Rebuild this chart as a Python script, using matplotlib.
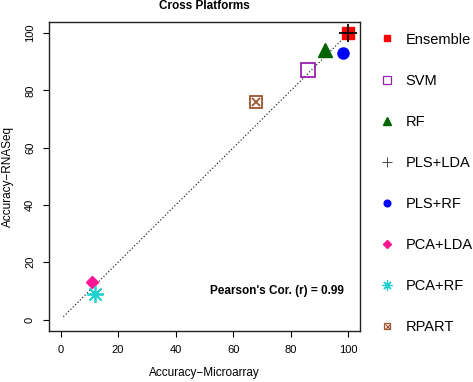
import matplotlib.pyplot as plt
from matplotlib.lines import Line2D

plt.rcParams['font.family'] = ['Liberation Sans', 'DejaVu Sans']

# accuracy values
methods = ['Ensemble', 'SVM', 'RF', 'PLS+LDA', 'PLS+RF', 'PCA+LDA', 'PCA+RF', 'RPART']
microarray = [100, 86, 92, 100, 98, 11, 12, 68]
rnaseq = [100, 87, 94, 100, 93, 13, 9, 76]
pearson_r = 0.99

colors = ['#FF0000', '#9A1FB0', '#006400', '#000000', '#0000FF', '#FF1493', '#20D0D0', '#A0522D']
# (marker, filled, size)
styles = [('s', True, 8), ('s', False, 9.5), ('^', True, 10), ('+', False, 13),
          ('o', True, 8), ('D', True, 6.5), ((8, 2, 0), False, 12), ('s', False, 8)]

fig = plt.figure(figsize=(4.73, 3.82), dpi=100)
ax = fig.add_axes([0.1036, 0.1335, 0.6575, 0.8095])

ax.plot([1, 100], [1, 100], color='black', linestyle=(0, (1, 2)), linewidth=0.8, zorder=1)

handles = []
for i, m in enumerate(methods):
    mk, filled, ms = styles[i]
    c = colors[i]
    kw = dict(marker=mk, markersize=ms, linestyle='none', zorder=3)
    if filled:
        kw.update(color=c, markeredgecolor=c)
    else:
        kw.update(color=c, markerfacecolor='none', markeredgecolor=c, markeredgewidth=1.3)
    ax.plot([microarray[i]], [rnaseq[i]], **kw)
    # legend handle, smaller
    lkw = dict(kw)
    lkw['markersize'] = ms * 0.6
    if 'markeredgewidth' in lkw:
        lkw['markeredgewidth'] = 0.9
    if m == 'PLS+LDA':
        lkw['color'] = '#444444'
        lkw['markeredgecolor'] = '#444444'
        lkw['markeredgewidth'] = 0.7
    h = Line2D([], [], **lkw)
    if m == 'RPART':
        ax.plot([microarray[i]], [rnaseq[i]], marker='x', markersize=ms * 0.75,
                color=c, markeredgewidth=1.3, linestyle='none', zorder=3)
        h = (h, Line2D([], [], marker='x', markersize=ms * 0.45, color=c,
                       markeredgewidth=0.8, linestyle='none'))
    handles.append(h)

ax.set_xlim(-4, 104)
ax.set_ylim(-4, 104)
ticks = [0, 20, 40, 60, 80, 100]
ax.set_xticks(ticks)
ax.set_yticks(ticks)
ax.tick_params(labelsize=8, length=4, width=0.8, direction='out', pad=6)
for lab in ax.get_yticklabels():
    lab.set_rotation(90)
    lab.set_va('center')
for s in ax.spines.values():
    s.set_linewidth(1.0)
    s.set_color('#222222')

ax.set_xlabel('Accuracy\u2212Microarray', fontsize=8.5, labelpad=9)
ax.set_ylabel('Accuracy\u2212RNASeq', fontsize=8.5, labelpad=8)
ax.set_title('Cross Platforms', fontsize=8.5, fontweight='bold', pad=9)

ax.text(98.5, 9.8, "Pearson's Cor. (r) = %.2f" % pearson_r, fontsize=8.5,
        fontweight='bold', ha='right', va='center')

fig.legend(handles, methods, loc='upper left', bbox_to_anchor=(0.79, 0.93),
           frameon=False, fontsize=10.5, labelspacing=1.86, handlelength=1.0,
           handletextpad=0.8, borderaxespad=0)

fig.savefig('out.png', dpi=100)
